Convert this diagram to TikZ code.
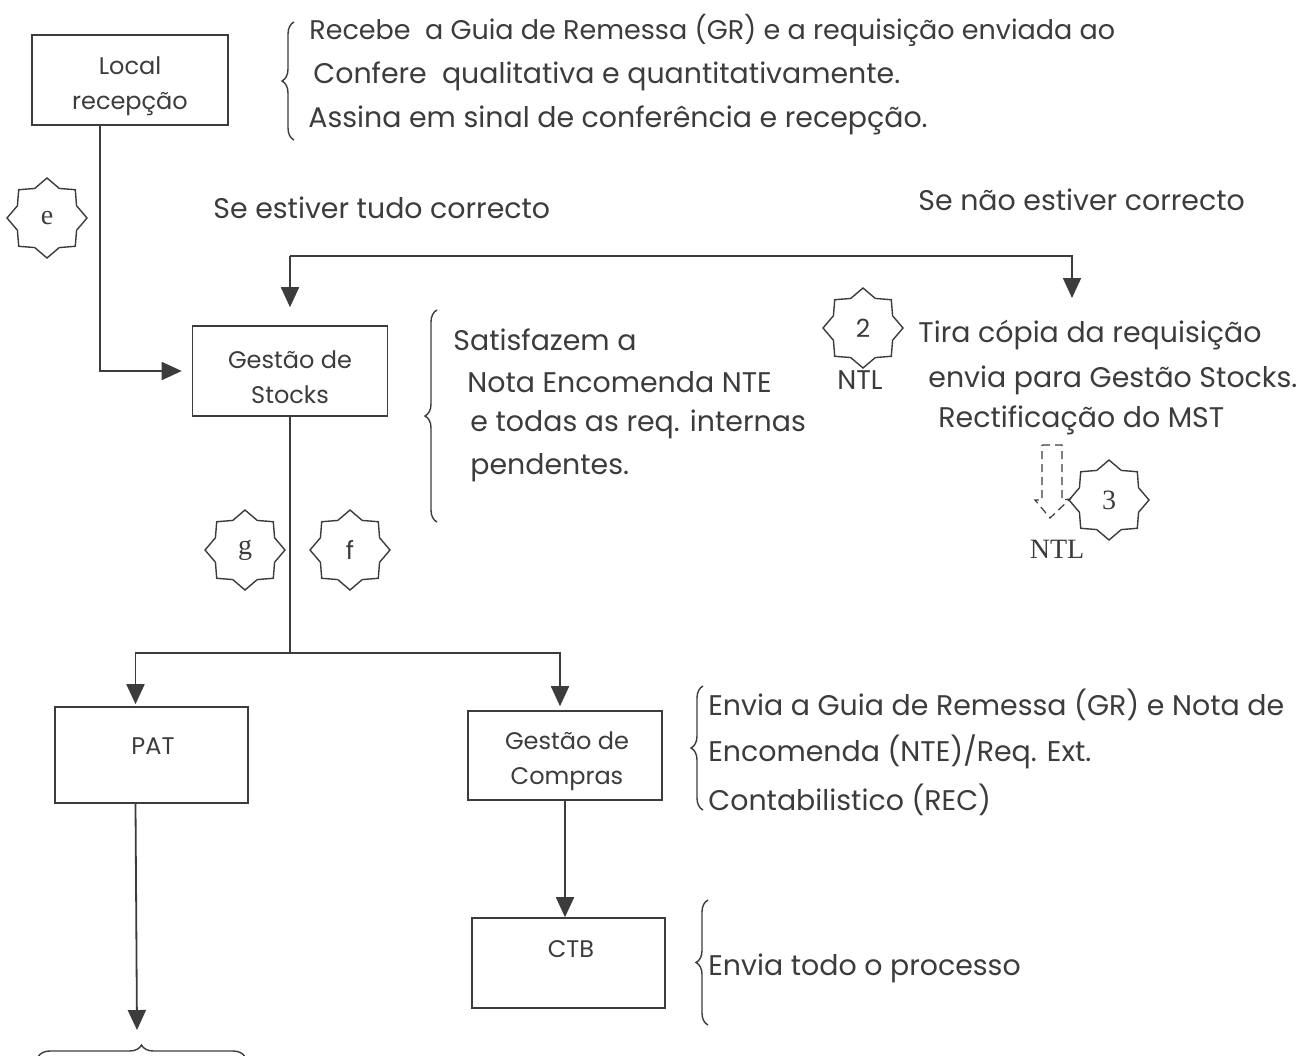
\documentclass[tikz,border=0pt]{standalone}
\usepackage{fontspec}
\setmainfont{Poppins}
\newfontfamily\serifface{Liberation Serif}
\usetikzlibrary{arrows.meta,shapes.geometric,decorations.pathreplacing}
\definecolor{ink}{HTML}{3C3C3C}
\begin{document}
\begin{tikzpicture}[x=0.5pt,y=-0.5pt,
  box/.style={draw=ink, line width=0.8pt, inner sep=0pt},
  boxtxt/.style={text=ink, align=center, font=\fontsize{12}{17.5}\selectfont, inner sep=0pt},
  txt/.style={anchor=west, text=ink, font=\fontsize{14.2}{16}\selectfont, inner sep=0pt},
  starnode/.style={star, star points=8, star point ratio=1.25, draw=ink,
    line width=0.7pt, minimum size=40pt, inner sep=0pt, text=ink,
    font=\fontsize{12.5}{14}\selectfont},
  serstar/.style={starnode, font=\serifface\fontsize{14}{15}\selectfont},
  sernode/.style={text=ink, font=\serifface\fontsize{14}{15}\selectfont, inner sep=0pt},
  arr/.style={draw=ink, line width=0.9pt, -{Triangle[length=10pt,width=9pt]}},
  ln/.style={draw=ink, line width=0.9pt},
  br/.style={draw=ink, line width=0.7pt, decorate, decoration={brace, amplitude=6pt}}
]
\useasboundingbox[fill=white] (0,0) rectangle (1305,1055);

% boxes
\node[box, minimum width=98pt, minimum height=45pt] (local) at (130,80) {};
\node[boxtxt] (localtxt) at (130,86) {Local\\recepção};
\node[box, minimum width=97.5pt, minimum height=45pt] (stocks) at (290,371) {};
\node[boxtxt] (stockstxt) at (290,377) {Gestão de\\Stocks};
\node[box, minimum width=96.5pt, minimum height=48pt] (pat) at (151.5,755) {};
\node[boxtxt] (pattxt) at (153,746) {PAT};
\node[box, minimum width=97pt, minimum height=44.5pt] (compras) at (565,755.5) {};
\node[boxtxt] (comprastxt) at (567,761) {Gestão de\\Compras};
\node[box, minimum width=96.5pt, minimum height=45pt] (ctb) at (568.5,963) {};
\node[boxtxt] (ctbtxt) at (571,949) {CTB};

% stars
\node[serstar] (se) at (47,218) {e};
\node[serstar] (sg) at (245,550) {g};
\node[starnode] (sf) at (350,550) {f};
\node[starnode] (s2) at (863,328) {2};
\node[serstar] (s3) at (1109,500) {3};
\node[text=ink, font=\fontsize{13.5}{15}\selectfont, inner sep=0pt] (ntl2) at (860,380) {NTL};
\node[sernode] (ntl3) at (1057,549) {NTL};

% texts
\node[txt, font=\fontsize{13.5}{16}\selectfont] (t1) at (309,30) {Recebe\ \ a Guia de Remessa (GR) e a requisição enviada ao};
\node[txt] (t2) at (313,76) {Confere\ \ qualitativa e quantitativamente.};
\node[txt] (t3) at (308,120) {Assina em sinal de conferência e recepção.};
\node[txt] (ok) at (213,208) {Se estiver tudo correcto};
\node[txt] (nok) at (918,200) {Se não estiver correcto};
\node[txt] (s1) at (453,340) {Satisfazem a};
\node[txt] (s2t) at (467,382) {Nota Encomenda NTE};
\node[txt] (s3t) at (470,424) {e todas as req. internas};
\node[txt] (s4t) at (470,468) {pendentes.};
\node[txt] (r1) at (918,335) {Tira cópia da requisição};
\node[txt] (r2) at (928,380) {envia para Gestão Stocks.};
\node[txt] (r3) at (938,420) {Rectificação do MST};
\node[txt] (c1) at (708,705) {Envia a Guia de Remessa (GR) e Nota de};
\node[txt] (c2) at (708,752) {Encomenda (NTE)/Req. Ext.};
\node[txt] (c3) at (708,800) {Contabilistico (REC)};
\node[txt] (d1) at (708,968) {Envia todo o processo};

% braces
\draw[br] (294,140) -- (294,22);
\draw[br] (437,522) -- (437,310);
\draw[br] (703,810) -- (703,686);
\draw[br] (708,1025) -- (708,900);
\draw[br] (38,1057) -- (245,1057);

% connectors
\draw[arr, shorten >=5pt] ([xshift=-15pt]local.south) |- (stocks.west);
\coordinate (tl) at (290,256);
\coordinate (tr) at (1072,256);
\coordinate (nterr) at (1072,298);
\draw[arr] (tl) -- (tr) -- (nterr);
\draw[arr, shorten >=9pt] (tl) -- (stocks.north);
\coordinate (sp) at (290,653);
\draw[ln] (stocks.south) -- (sp);
\draw[arr, shorten >=1pt] (sp) -| ([xshift=-8pt]pat.north);
\draw[arr, shorten >=2pt] (sp) -| ([xshift=-2.5pt]compras.north);
\draw[arr] (compras.south) -- (compras.south |- ctb.north);
\coordinate (patend) at (137,1030);
\draw[arr] ([xshift=-8pt]pat.south) -- (patend);

% dashed hollow arrow
\draw[ink, dashed, line width=0.6pt, dash pattern=on 4pt off 2.5pt]
  (1042,445) -- (1062,445) -- (1062,500) -- (1070,499) -- (1050,518)
  -- (1035,500) -- (1042,500) -- cycle;
\end{tikzpicture}
\end{document}
